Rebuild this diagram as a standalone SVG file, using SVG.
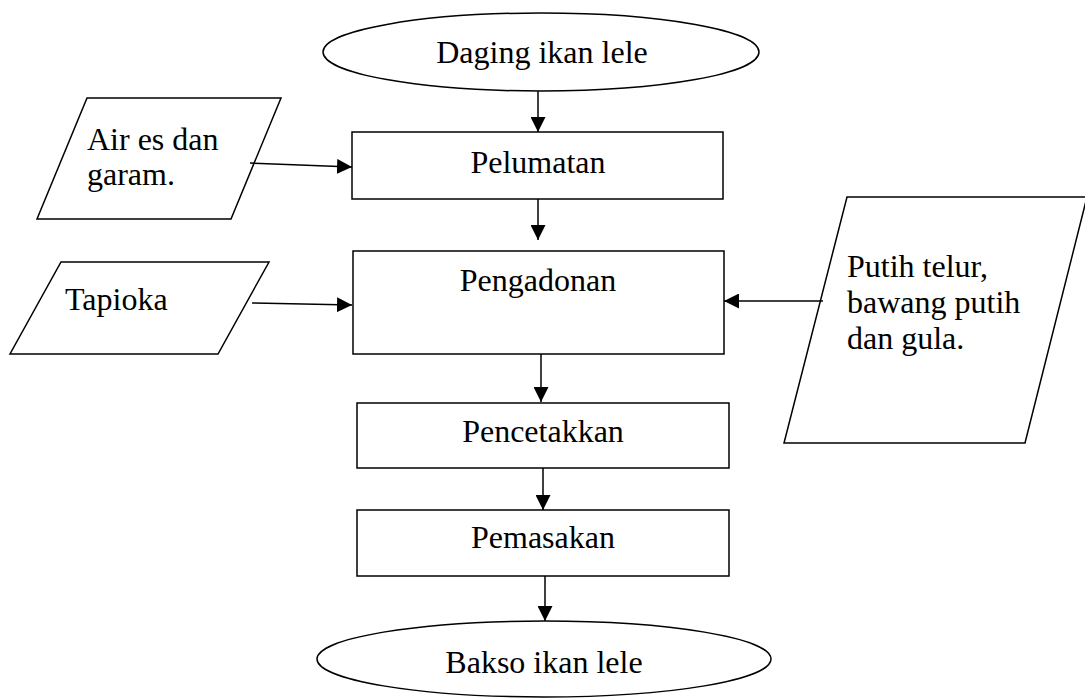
<svg xmlns="http://www.w3.org/2000/svg" width="1085" height="700" viewBox="0 0 1085 700">
<style>
.s{fill:#fff;stroke:#000;stroke-width:1.5}
.t{font-family:"Liberation Serif","Times New Roman",serif;font-size:32px;fill:#000}
.m{text-anchor:middle}
.c{stroke:#000;stroke-width:1.5;fill:none}
</style>
<defs>
<marker id="ah" markerUnits="userSpaceOnUse" markerWidth="15" markerHeight="15" refX="15" refY="7.5" orient="auto">
<path d="M0,0 L15,7.5 L0,15 z" fill="#000"/>
</marker>
</defs>
<rect width="1085" height="700" fill="#fff"/>
<g id="n-daging">
<ellipse class="s" cx="541" cy="52" rx="218" ry="39"/>
<text class="t m" x="542" y="63">Daging ikan lele</text>
</g>
<g id="n-airgaram">
<polygon class="s" points="87,98 281,98 231,219 37,219"/>
<text class="t" x="87" y="150">Air es dan</text>
<text class="t" x="87" y="185">garam.</text>
</g>
<g id="n-pelumatan">
<rect class="s" x="352" y="132" width="371" height="67"/>
<text class="t m" x="538" y="173">Pelumatan</text>
</g>
<g id="n-tapioka">
<polygon class="s" points="61,262 269,262 218,354 10,354"/>
<text class="t" x="65" y="310">Tapioka</text>
</g>
<g id="n-pengadonan">
<rect class="s" x="353" y="251" width="371" height="103"/>
<text class="t m" x="538" y="291">Pengadonan</text>
</g>
<g id="n-putih">
<polygon class="s" points="847,197 1087,197 1025,443 784,443"/>
<text class="t" x="847" y="277">Putih telur,</text>
<text class="t" x="847" y="313">bawang putih</text>
<text class="t" x="847" y="349">dan gula.</text>
</g>
<g id="n-pencetakkan">
<rect class="s" x="357" y="403" width="372" height="65"/>
<text class="t m" x="543" y="442">Pencetakkan</text>
</g>
<g id="n-pemasakan">
<rect class="s" x="357" y="510" width="372" height="66"/>
<text class="t m" x="543" y="548">Pemasakan</text>
</g>
<g id="n-bakso">
<ellipse class="s" cx="544" cy="659" rx="227" ry="38"/>
<text class="t m" x="544" y="673">Bakso ikan lele</text>
</g>
<g id="connectors">
<line class="c" x1="538" y1="91" x2="538" y2="132" marker-end="url(#ah)"/>
<line class="c" x1="250" y1="163" x2="352" y2="167" marker-end="url(#ah)"/>
<line class="c" x1="538" y1="199" x2="538" y2="240" marker-end="url(#ah)"/>
<line class="c" x1="252" y1="303" x2="352" y2="305" marker-end="url(#ah)"/>
<line class="c" x1="823" y1="301" x2="724" y2="301" marker-end="url(#ah)"/>
<line class="c" x1="541" y1="354" x2="541" y2="402" marker-end="url(#ah)"/>
<line class="c" x1="543" y1="468" x2="543" y2="510" marker-end="url(#ah)"/>
<line class="c" x1="545" y1="576" x2="545" y2="621" marker-end="url(#ah)"/>
</g>
</svg>
